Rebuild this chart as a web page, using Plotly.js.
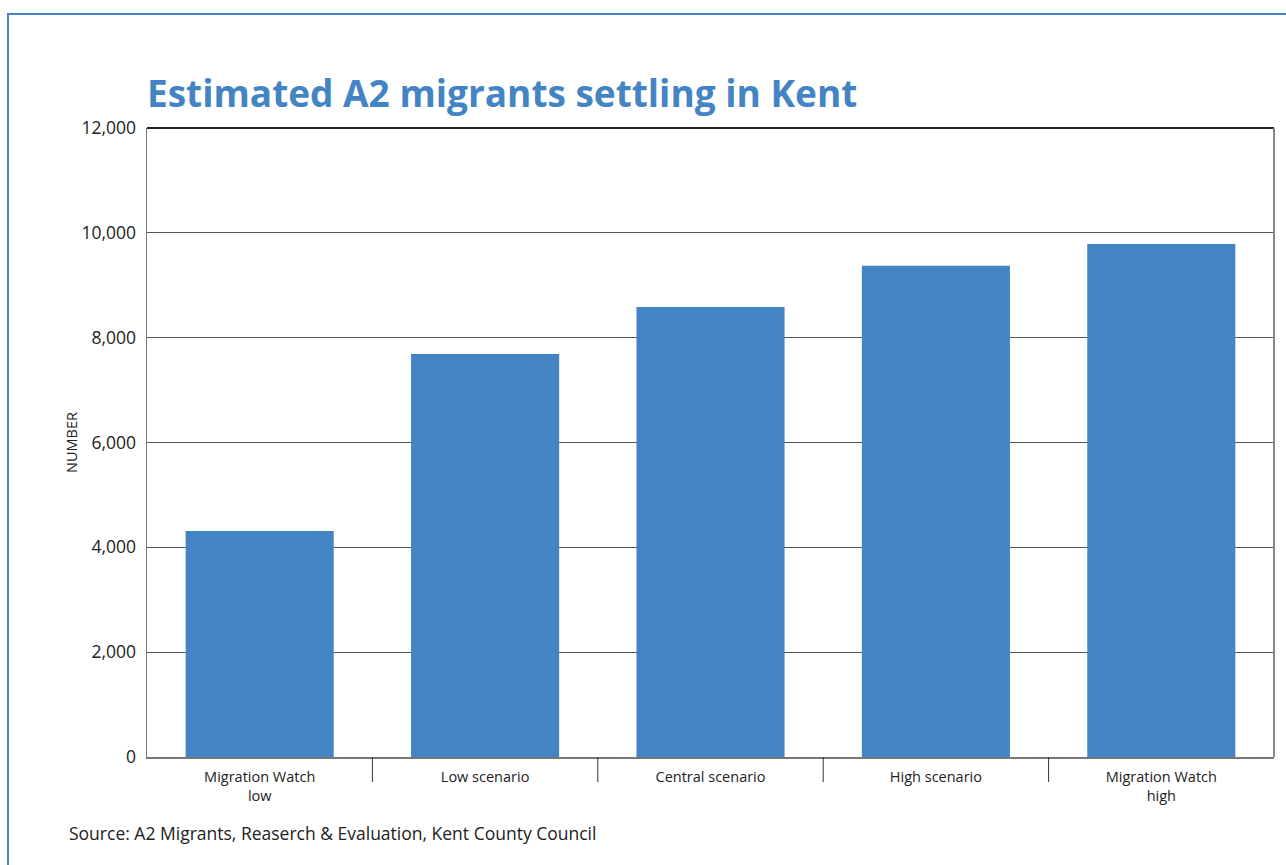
<!DOCTYPE html>
<html>
<head>
<meta charset="utf-8">
<script src="https://cdn.plot.ly/plotly-3.0.1.min.js"></script>
<style>
html,body{margin:0;padding:0;background:#fff;}
#chart{width:1286px;height:865px;}
#frame{position:absolute;left:7px;top:13px;width:1300px;height:900px;border-left:2.5px solid #4585c6;border-top:2.5px solid #4585c6;pointer-events:none;z-index:10;}
</style>
</head>
<body>
<div id="frame"></div>
<div id="chart"></div>
<script>
const categories = ["Migration Watch<br>low", "Low scenario", "Central scenario", "High scenario", "Migration Watch<br>high"];
const values = [4310, 7690, 8585, 9370, 9785];
const yTickVals = [0, 2000, 4000, 6000, 8000, 10000, 12000];
const yTickText = ["0", "2,000", "4,000", "6,000", "8,000", "10,000", "12,000"];

const boundaryShapes = [];
for (let i = 0; i < categories.length - 1; i++) {
  boundaryShapes.push({
    type: "line", xref: "x", yref: "paper",
    x0: i + 0.5, x1: i + 0.5, y0: 0, y1: -25 / 629,
    line: {color: "#333", width: 1}
  });
}

const trace = {
  type: "bar",
  x: categories,
  y: values,
  marker: {color: "#4384c4"},
  hoverinfo: "none"
};

const layout = {
  width: 1286, height: 865,
  margin: {l: 147, r: 12, t: 128, b: 108},
  paper_bgcolor: "rgba(0,0,0,0)",
  plot_bgcolor: "#fff",
  bargap: 0.343,
  showlegend: false,
  font: {family: "Open Sans, sans-serif", color: "#222"},
  title: {
    text: "<b>Estimated A2 migrants settling in Kent</b>",
    font: {family: "Open Sans, sans-serif", size: 37, color: "#4384c4"},
    xref: "paper", x: 0, xanchor: "left",
    yref: "container", y: 1 - 94 / 865, yanchor: "middle"
  },
  xaxis: {
    type: "category",
    showline: true, linecolor: "#777", linewidth: 1.5,
    ticks: "", showgrid: false,
    ticklabelstandoff: 6,
    tickfont: {size: 14.5, color: "#222"},
    range: [-0.5, 4.5],
    fixedrange: true
  },
  yaxis: {
    range: [0, 12000],
    tickvals: yTickVals, ticktext: yTickText,
    showgrid: true, gridcolor: "#555", gridwidth: 1,
    showline: true, linecolor: "#777", linewidth: 1.5,
    zeroline: false,
    ticks: "", ticklabelstandoff: 6,
    tickfont: {size: 17.5, color: "#222"},
    title: {text: "NUMBER", font: {size: 14.5, color: "#222"}, standoff: 0},
    fixedrange: true
  },
  shapes: [
    {type: "line", xref: "paper", yref: "paper", x0: 0, x1: 1, y0: 1, y1: 1, line: {color: "#222", width: 2}},
    {type: "line", xref: "paper", yref: "paper", x0: 1, x1: 1, y0: 0, y1: 1, line: {color: "#888", width: 2}}
  ].concat(boundaryShapes),
  annotations: [
    {
      text: "Source: A2 Migrants, Reaserch &amp; Evaluation, Kent County Council",
      xref: "paper", yref: "paper",
      x: (67 - 147) / 1127, xanchor: "left",
      y: -(833 - 757) / 629, yanchor: "middle",
      showarrow: false,
      font: {size: 17.5, color: "#222"}
    }
  ]
};

Plotly.newPlot("chart", [trace], layout, {displayModeBar: false, staticPlot: true});
</script>
</body>
</html>
